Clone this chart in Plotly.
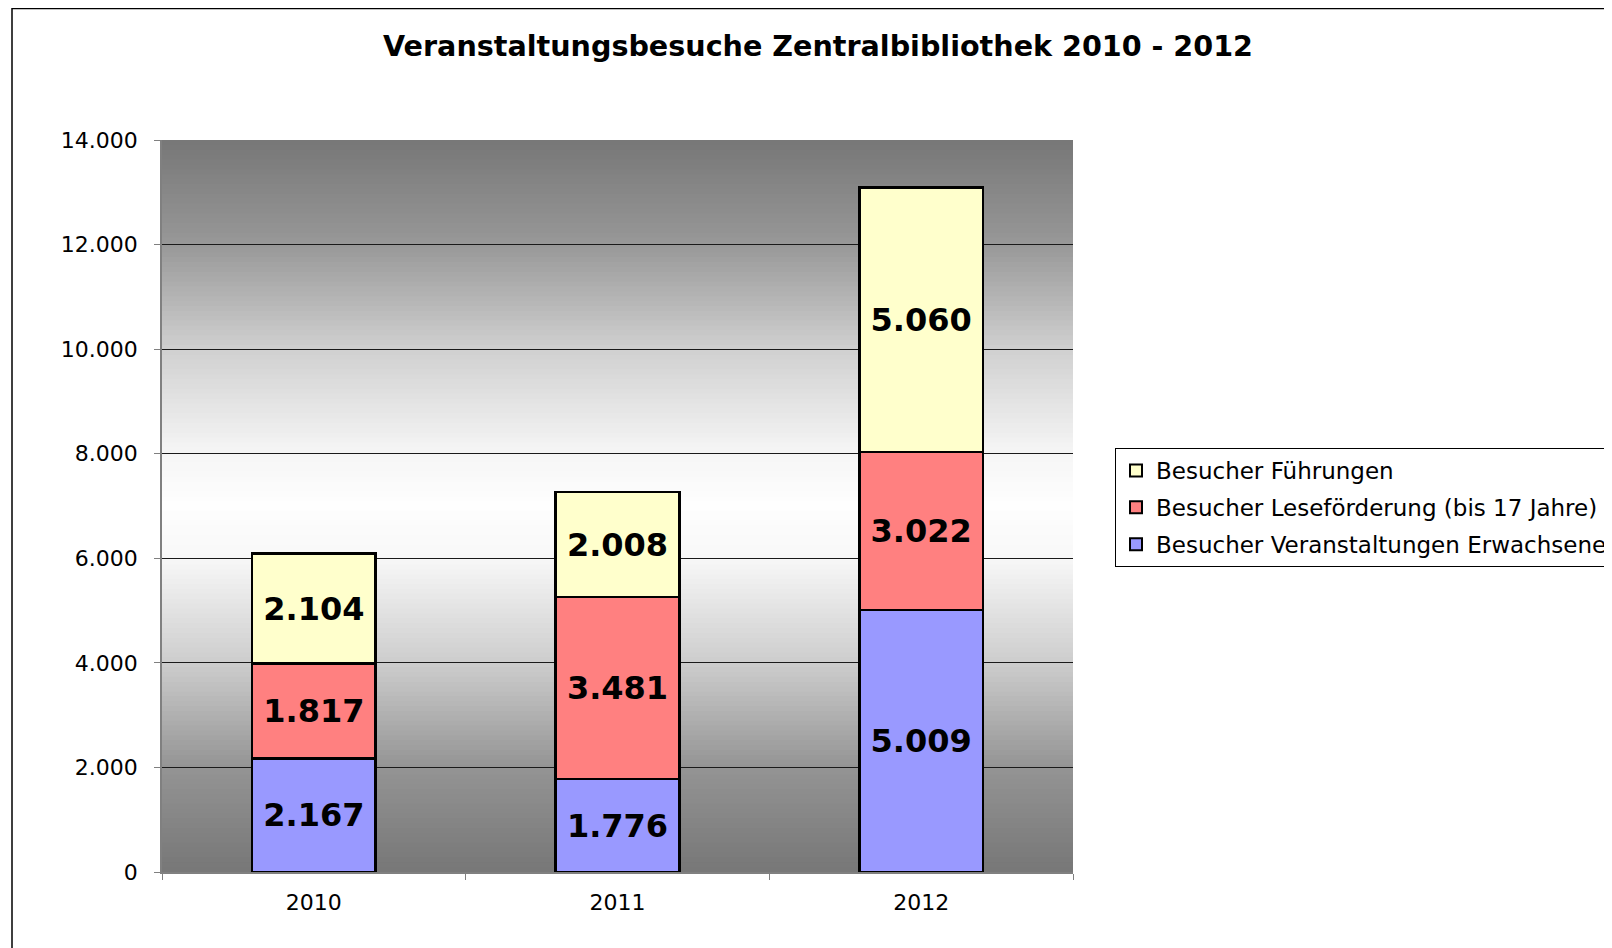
import plotly.graph_objects as go

years = ["2010", "2011", "2012"]
erwachsene = [2167, 1776, 5009]
lesefoerderung = [1817, 3481, 3022]
fuehrungen = [2104, 2008, 5060]
series_names = ["Besucher Veranstaltungen Erwachsene",
                "Besucher Leseförderung (bis 17 Jahre)",
                "Besucher Führungen"]
series_colors = ["#9999FF", "#FF8080", "#FFFFCC"]
y_ticks = [0, 2000, 4000, 6000, 8000, 10000, 12000, 14000]

W, H = 1612, 948
OFF = 8  # page body margin
PL, PR, PT, PB = 162, 1073, 140, 872  # plot area in page pixels
L = PL - OFF
T = PT - OFF
pw, ph = PR - PL, PB - PT
R = W - L - pw
B = H - T - ph

fig = go.Figure()
for i, (name, vals, col) in enumerate(zip(series_names, [erwachsene, lesefoerderung, fuehrungen], series_colors)):
    fig.add_trace(go.Bar(
        x=years, y=vals, name=name, legendgroup=f"g{i}", legendrank=10 - i,
        marker=dict(color=col, line=dict(color="black", width=2.5)),
        texttemplate="%{y:,}", textposition="inside", insidetextanchor="middle",
        textfont=dict(family="DejaVu Sans", size=32, color="black", weight="bold"),
        textangle=0, constraintext="none",
    ))

# gradient background (gray -> white -> gray), styling only
stops = [(0.0, 119), (0.143, 148), (0.286, 205), (0.43, 248), (0.5, 254),
         (0.571, 246), (0.714, 208), (0.857, 152), (1.0, 119)]


def gray_at(f):
    for (a, ga), (b, gb) in zip(stops[:-1], stops[1:]):
        if a <= f <= b:
            return ga + (gb - ga) * (f - a) / (b - a)
    return stops[-1][1]


shapes = []
n = 150
for i in range(n):
    f0, f1 = i / n, (i + 1) / n
    g = int(round(gray_at((f0 + f1) / 2)))
    c = f"rgb({g},{g},{g})"
    shapes.append(dict(type="rect", xref="paper", yref="paper", x0=0, x1=1,
                       y0=f0, y1=min(1.0, f1 + 0.006),
                       fillcolor=c, line=dict(width=0), layer="below"))
# outer chart border
shapes.append(dict(type="rect", xref="paper", yref="paper",
                   x0=(12 - PL) / pw, x1=(W + 40 - PL) / pw,
                   y0=(PB - (H + 40)) / ph, y1=(PB - 8.5) / ph,
                   line=dict(color="black", width=1.5), fillcolor="rgba(0,0,0,0)", layer="above"))

fig.update_layout(
    width=W, height=H,
    margin=dict(l=L, r=R, t=T, b=B, autoexpand=False),
    barmode="stack", bargap=0.593,
    separators=",.",
    paper_bgcolor="white", plot_bgcolor="white",
    shapes=shapes,
    title=dict(text="<b>Veranstaltungsbesuche Zentralbibliothek 2010 - 2012</b>",
               xref="container", yref="container", x=(818 - OFF) / W, y=1 - (46 - OFF) / H,
               xanchor="center", yanchor="middle",
               font=dict(family="DejaVu Sans", size=28.6, color="black")),
    legend=dict(xref="container", yref="container",
                x=(1115 - OFF) / W, y=1 - (448 - OFF) / H, xanchor="left", yanchor="top",
                traceorder="grouped", bgcolor="white", bordercolor="black", borderwidth=1,
                font=dict(family="DejaVu Sans", size=23, color="black"),
                itemsizing="constant", tracegroupgap=4),
    font=dict(family="DejaVu Sans", color="black"),
)
fig.update_yaxes(range=[0, 14000], tickvals=y_ticks, tickformat=",d",
                 showgrid=True, gridcolor="#1a1a1a", gridwidth=1,
                 showline=True, linecolor="#808080", linewidth=1.5,
                 ticks="outside", ticklen=6, tickcolor="#808080",
                 ticklabelstandoff=12,
                 tickfont=dict(family="DejaVu Sans", size=22, color="black"),
                 zeroline=False)
fig.update_xaxes(showline=True, linecolor="#808080", linewidth=1.5,
                 ticks="outside", ticklen=6, tickcolor="#808080", tickson="boundaries",
                 ticklabelstandoff=10,
                 tickfont=dict(family="DejaVu Sans", size=22, color="black"),
                 showgrid=False)

fig.write_html("out.html")
